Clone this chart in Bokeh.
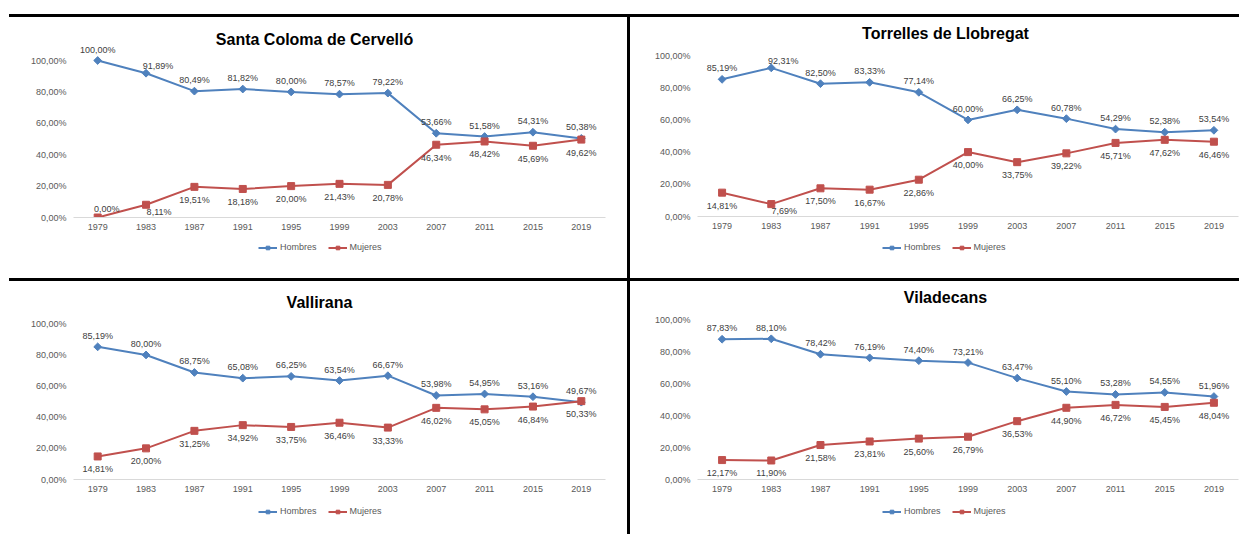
import math
from bokeh.plotting import figure
from bokeh.models import (FactorRange, Range1d, FixedTicker, Legend, LegendItem,
                          ColumnDataSource, Div, Label)
from bokeh.layouts import column, row
from bokeh.embed import file_html
from bokeh.resources import INLINE
from bokeh.core.properties import value

# ---------------- data ----------------
years = ["1979", "1983", "1987", "1991", "1995", "1999", "2003", "2007", "2011", "2015", "2019"]
y_ticks = [0, 20, 40, 60, 80, 100]
y_tick_labels = ["0,00%", "20,00%", "40,00%", "60,00%", "80,00%", "100,00%"]
series_names = ["Hombres", "Mujeres"]

santa_coloma_hombres = [100.00, 91.89, 80.49, 81.82, 80.00, 78.57, 79.22, 53.66, 51.58, 54.31, 50.38]
santa_coloma_mujeres = [0.00, 8.11, 19.51, 18.18, 20.00, 21.43, 20.78, 46.34, 48.42, 45.69, 49.62]
torrelles_hombres = [85.19, 92.31, 82.50, 83.33, 77.14, 60.00, 66.25, 60.78, 54.29, 52.38, 53.54]
torrelles_mujeres = [14.81, 7.69, 17.50, 16.67, 22.86, 40.00, 33.75, 39.22, 45.71, 47.62, 46.46]
vallirana_hombres = [85.19, 80.00, 68.75, 65.08, 66.25, 63.54, 66.67, 53.98, 54.95, 53.16, 49.67]
vallirana_mujeres = [14.81, 20.00, 31.25, 34.92, 33.75, 36.46, 33.33, 46.02, 45.05, 46.84, 50.33]
viladecans_hombres = [87.83, 88.10, 78.42, 76.19, 74.40, 73.21, 63.47, 55.10, 53.28, 54.55, 51.96]
viladecans_mujeres = [12.17, 11.90, 21.58, 23.81, 25.60, 26.79, 36.53, 44.90, 46.72, 45.45, 48.04]

# ---------------- style ----------------
FONT = "Liberation Sans"
BLUE = "#4F81BD"
RED = "#C0504D"
AXIS_TXT = "#595959"
LBL_TXT = "#404040"


def fmt(v):
    return f"{v:.2f}".replace(".", ",") + "%"


def add_series(p, src_h, src_m):
    lh = p.line("x", "y", source=src_h, line_color=BLUE, line_width=2)
    sh = p.scatter("x", "y", source=src_h, marker="square", angle=math.pi / 4, size=5.5,
                   fill_color=BLUE, line_color=BLUE)
    lm = p.line("x", "y", source=src_m, line_color=RED, line_width=2)
    sm = p.scatter("x", "y", source=src_m, marker="square", size=7,
                   fill_color=RED, line_color=RED)
    return lh, sh, lm, sm


def sources(hombres, mujeres):
    # Hombres labels above the points; labels of very high points sit to the right
    hxo = [12 if v > 90 and v < 100 else 0 for v in hombres]
    hyo = [-7 if v > 90 and v < 100 else -11 for v in hombres]
    src_h = ColumnDataSource(dict(x=years, y=hombres, label=[fmt(v) for v in hombres],
                                  xo=hxo, yo=hyo))
    # Mujeres labels below; low values moved aside so they do not sit on the axis
    mxo = [(9 if v < 1 else 13) if v < 10 else 0 for v in mujeres]
    myo = [(-9 if v < 1 else 7) if v < 10 else 13 for v in mujeres]
    src_m = ColumnDataSource(dict(x=years, y=mujeres, label=[fmt(v) for v in mujeres],
                                  xo=mxo, yo=myo))
    return src_h, src_m


def panel(title, title_pos, src_h, src_m, w, h, bl, br, bb, px_per_100):
    frame_h = h - bb
    ymax = frame_h * 100.0 / px_per_100
    p = figure(width=w, height=h, x_range=FactorRange(*years, range_padding=0),
               y_range=Range1d(0, ymax), toolbar_location=None, output_backend="svg",
               min_border_left=bl, min_border_right=br, min_border_top=0, min_border_bottom=bb,
               outline_line_color=None, background_fill_color="white", border_fill_color="white")
    p.grid.visible = False

    xa = p.xaxis[0]
    xa.axis_line_color = "#D9D9D9"
    xa.axis_line_width = 1
    xa.major_tick_line_color = None
    xa.major_tick_out = 0
    xa.major_tick_in = 0
    xa.major_label_text_font = FONT
    xa.major_label_text_font_size = "9px"
    xa.major_label_text_color = AXIS_TXT
    xa.major_label_standoff = 6

    ya = p.yaxis[0]
    ya.ticker = FixedTicker(ticks=y_ticks)
    ya.major_label_overrides = {t: l for t, l in zip(y_ticks, y_tick_labels)}
    ya.axis_line_color = None
    ya.major_tick_line_color = None
    ya.minor_tick_line_color = None
    ya.major_tick_out = 0
    ya.major_tick_in = 0
    ya.minor_tick_out = 0
    ya.major_label_text_font = FONT
    ya.major_label_text_font_size = "9px"
    ya.major_label_text_color = AXIS_TXT
    ya.major_label_standoff = 7

    add_series(p, src_h, src_m)

    for src in (src_h, src_m):
        p.text("x", "y", text="label", source=src, x_offset="xo", y_offset="yo",
               text_font=value(FONT), text_font_size="9px", text_color=LBL_TXT,
               text_align="center", text_baseline="middle")

    p.add_layout(Label(x=title_pos[0], y=title_pos[1], x_units="screen", y_units="screen",
                       text=title, text_font=FONT, text_font_size="16px",
                       text_font_style="bold", text_color="#000000",
                       text_align="center", text_baseline="middle"))
    return p


def legend_fig(w, h, loc, src_h, src_m):
    # same series, drawn outside the visible range: only the legend shows
    f = figure(width=w, height=h, x_range=FactorRange(*years, range_padding=0),
               y_range=Range1d(1000, 1001),
               toolbar_location=None, output_backend="svg", x_axis_type=None,
               y_axis_type=None, min_border=0, outline_line_color=None,
               background_fill_color="white", border_fill_color="white")
    f.grid.visible = False
    lh, sh, lm, sm = add_series(f, src_h, src_m)
    legend = Legend(items=[LegendItem(label=series_names[0], renderers=[lh, sh]),
                           LegendItem(label=series_names[1], renderers=[lm, sm])],
                    orientation="horizontal", location=loc,
                    padding=0, margin=0, spacing=11, border_line_color=None,
                    background_fill_alpha=0, glyph_width=19, glyph_height=9,
                    label_standoff=3, label_height=9, label_width=10,
                    label_text_font=FONT, label_text_font_size="9px",
                    label_text_color=AXIS_TXT)
    f.add_layout(legend)
    return f


def bar(w, h):
    return Div(text="", width=w, height=h, margin=0,
               styles={"background-color": "black", "flex-shrink": "0", "min-height": f"{h}px"})


def gap(w, h):
    return Div(text="", width=w, height=h, margin=0,
               styles={"flex-shrink": "0", "min-height": f"{h}px"})


sc_h, sc_m = sources(santa_coloma_hombres, santa_coloma_mujeres)
to_h, to_m = sources(torrelles_hombres, torrelles_mujeres)
va_h, va_m = sources(vallirana_hombres, vallirana_mujeres)
vi_h, vi_m = sources(viladecans_hombres, viladecans_mujeres)

tl = panel("Santa Coloma de Cervelló", (241, 178), sc_h, sc_m, 627, 220, 73, 22, 20, 157)
tr = panel("Torrelles de Llobregat", (248, 183), to_h, to_m, 609, 220, 67, 1, 21, 161)
bl = panel("Vallirana", (246, 177), va_h, va_m, 627, 219, 73, 22, 21, 155.7)
br = panel("Viladecans", (248, 182), vi_h, vi_m, 609, 219, 67, 1, 21, 159.7)

layout = column(
    gap(1239, 14),
    row(gap(9, 3), bar(1230, 3)),
    row(column(tl, legend_fig(627, 41, (185, 26), sc_h, sc_m)), bar(3, 261),
        column(tr, legend_fig(609, 41, (185, 26), to_h, to_m))),
    row(gap(9, 3), bar(1230, 3)),
    row(column(bl, legend_fig(627, 34, (185, 18), va_h, va_m)), bar(3, 253),
        column(br, legend_fig(609, 34, (185, 18), vi_h, vi_m))),
)

open("out.html", "w").write(file_html(layout, INLINE, title="Hombres y Mujeres"))
